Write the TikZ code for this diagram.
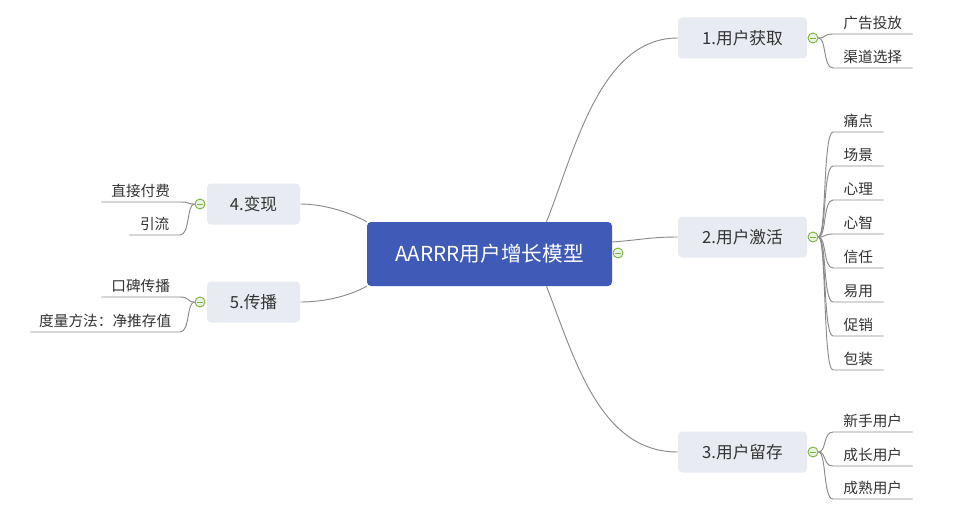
\documentclass[tikz,border=0pt]{standalone}
\usepackage{fontspec}
\setmainfont{Noto Sans CJK SC}
\usetikzlibrary{calc}
\definecolor{rootblue}{HTML}{3F5BB7}
\definecolor{topicgray}{HTML}{E8EBF2}
\definecolor{linegray}{HTML}{8A8A8A}
\definecolor{foldgreen}{HTML}{7CB342}
\definecolor{txtgray}{HTML}{333333}

\begin{document}
\begin{tikzpicture}[x=0.75pt,y=-0.75pt,
    root/.style={fill=rootblue,rounded corners=3pt,minimum width=183.75pt,minimum height=48pt,text=white,font=\fontsize{15.5}{18}\selectfont},
    topic/.style={fill=topicgray,rounded corners=3pt,minimum height=30.75pt,text=txtgray,font=\fontsize{12.5}{15}\selectfont},
    fold/.style={circle,draw=foldgreen,fill=foldgreen!15,line width=0.7pt,minimum size=7.5pt,inner sep=0pt,
        path picture={\draw[foldgreen,line width=0.7pt]($(path picture bounding box.west)+(1.8pt,0pt)$)--($(path picture bounding box.east)-(1.8pt,0pt)$);}},
    leaf/.style={inner xsep=0pt,inner ysep=3pt,text=txtgray,font=\fontsize{11}{13}\selectfont},
    link/.style={draw=linegray,line width=0.7pt}]
    \useasboundingbox (0,0) rectangle (962,506);
    \node[root] (root) at (489.5,254) {AARRR用户增长模型};
    \node[topic,minimum width=96.75pt] (b1) at (742.5,38) {1.用户获取};
    \node[topic,minimum width=96.75pt] (b2) at (742.5,237) {2.用户激活};
    \node[topic,minimum width=96.75pt] (b3) at (742.5,452) {3.用户留存};
    \node[topic,minimum width=69.75pt] (b4) at (253.5,204) {4.变现};
    \node[topic,minimum width=69.75pt] (b5) at (253.5,302) {5.传播};
    \node[fold] (f0) at (618,253) {};
    \node[fold] (f1) at (813,38) {};
    \node[fold] (f2) at (813,237) {};
    \node[fold] (f3) at (813,452) {};
    \node[fold] (f4) at (200,204) {};
    \node[fold] (f5) at (200,302) {};
    \draw[link] ($(root.north)+(57,0)$) .. controls (575,150) and (600,38) .. (b1.west);
    \draw[link] ($(root.east)+(0,-12)$) .. controls (640,240) and (650,237) .. (b2.west);
    \draw[link] ($(root.south)+(57,0)$) .. controls (575,360) and (600,452) .. (b3.west);
    \draw[link] (root.north west) .. controls (345,210) and (320,204) .. (b4.east);
    \draw[link] (root.south west) .. controls (345,298) and (320,302) .. (b5.east);
    \node[leaf,minimum width=59.25pt,anchor=south west] (l11) at (833,34) {广告投放};
    \node[leaf,minimum width=59.25pt,anchor=south west] (l12) at (833,68) {渠道选择};
    \draw[link] (f1.east) .. controls +(8,0) and +(-10,0) .. (l11.south west) -- (l11.south east);
    \draw[link] (f1.east) .. controls +(8,0) and +(-10,0) .. (l12.south west) -- (l12.south east);
    \foreach \t [count=\i] in {痛点,场景,心理,心智,信任,易用,促销,包装} {
        \node[leaf,minimum width=37.5pt,anchor=south west] (l2\i) at (833,{98+34*\i}) {\t};
        \draw[link] (f2.east) .. controls +(8,0) and +(-10,0) .. (l2\i.south west) -- (l2\i.south east);
    }
    \node[leaf,minimum width=59.25pt,anchor=south west] (l31) at (833,432) {新手用户};
    \node[leaf,minimum width=59.25pt,anchor=south west] (l32) at (833,466) {成长用户};
    \node[leaf,minimum width=59.25pt,anchor=south west] (l33) at (833,499) {成熟用户};
    \draw[link] (f3.east) .. controls +(8,0) and +(-10,0) .. (l31.south west) -- (l31.south east);
    \draw[link] (f3.east) .. controls +(8,0) and +(-10,0) .. (l32.south west) -- (l32.south east);
    \draw[link] (f3.east) .. controls +(8,0) and +(-10,0) .. (l33.south west) -- (l33.south east);
    \node[leaf,minimum width=58.5pt,anchor=south east] (l41) at (180,202) {直接付费};
    \node[leaf,minimum width=37.5pt,anchor=south east] (l42) at (180,235) {引流};
    \draw[link] (f4.west) .. controls +(-8,0) and +(10,0) .. (l41.south east) -- (l41.south west);
    \draw[link] (f4.west) .. controls +(-8,0) and +(10,0) .. (l42.south east) -- (l42.south west);
    \node[leaf,minimum width=58.5pt,anchor=south east] (l51) at (180,297) {口碑传播};
    \node[leaf,minimum width=111.75pt,anchor=south east] (l52) at (180,332) {度量方法：净推存值};
    \draw[link] (f5.west) .. controls +(-8,0) and +(10,0) .. (l51.south east) -- (l51.south west);
    \draw[link] (f5.west) .. controls +(-8,0) and +(10,0) .. (l52.south east) -- (l52.south west);
\end{tikzpicture}
\end{document}
